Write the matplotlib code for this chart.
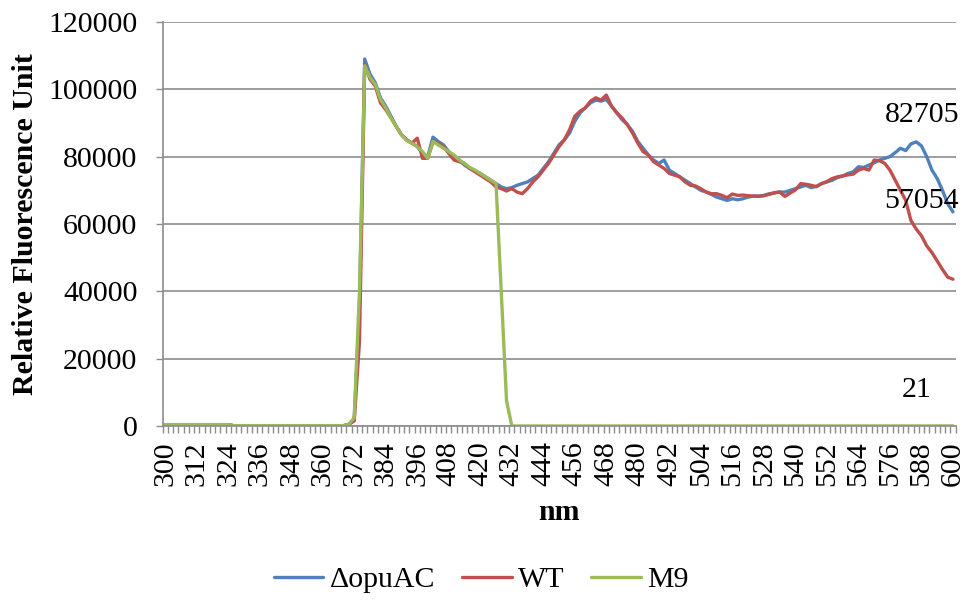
import matplotlib
matplotlib.use("Agg")
import matplotlib.pyplot as plt
import numpy as np

plt.rcParams['font.family'] = ['Liberation Serif', 'DejaVu Serif']

wavelength = list(range(300, 601, 2))

opuAC = [400, 400, 400, 400, 400, 400, 400, 400, 400, 400, 400, 400, 400,
         100, 100, 100, 100, 100, 100, 100, 100, 100, 100, 100, 100, 100, 100, 100, 100, 100, 100, 100, 100, 100, 100,
         500, 2000, 35000, 109000,
         104500, 102000, 97500, 95000, 92000, 89000, 86500, 85000, 84000, 83000,
         81000, 80000, 85800, 84500, 83500, 81500, 80000, 79000, 77500, 76500,
         75800, 75000, 74000, 73000, 72000, 71000, 70500, 70800, 71500, 72000,
         72500, 73500, 74500, 76500, 78500, 81000, 83500, 85000, 87000, 90500,
         93000, 94500, 96000, 96800, 96500, 97000, 95000, 93000, 91000, 89500,
         87500, 84500, 82500, 80500, 79000, 78000, 79000, 76000, 75000, 74000,
         73000, 72000, 71000, 70000, 69500, 68800, 68000, 67500, 67000, 67500,
         67200, 67500, 68000, 68300, 68300, 68500, 69000, 69200, 69500, 69500,
         70000, 70500, 71000, 71500, 70800, 71200, 72000, 72500, 73000, 73800,
         74200, 75000, 75500, 77000, 76800, 77500, 78200, 79000, 79500, 80000,
         81200, 82500, 81800, 83800, 84400, 83200, 80000, 76000, 73500, 70000,
         66000, 63600]

wt = [400, 400, 400, 400, 400, 400, 400, 400, 400, 400, 400, 400, 400,
      100, 100, 100, 100, 100, 100, 100, 100, 100, 100, 100, 100, 100, 100, 100, 100, 100, 100, 100, 100, 100, 100,
      500, 1500, 25000, 107500,
      103000, 101000, 96000, 94000, 91500, 89000, 86500, 85000, 84000, 85500,
      79500, 79500, 84500, 84000, 83000, 81000, 79000, 78500, 78000, 76500,
      75500, 74500, 73500, 72500, 71000, 70500, 69800, 70500, 69500, 69000,
      70500, 72500, 74000, 76000, 78000, 80500, 83000, 85000, 88000, 92000,
      93500, 94500, 96500, 97500, 96800, 98300, 95000, 93000, 91500, 89500,
      87000, 84000, 81500, 80500, 78500, 77500, 76500, 75000, 74500, 74000,
      72500, 71500, 71300, 70500, 69500, 69000, 69000, 68500, 67800, 68900,
      68500, 68600, 68400, 68300, 68200, 68400, 68800, 69300, 69500, 68200,
      69200, 70100, 72000, 71800, 71500, 71100, 72000, 72600, 73500, 74000,
      74300, 74600, 74800, 76000, 76500, 76000, 79000, 78800, 78000, 76000,
      73000, 70000, 67000, 61000, 58500, 56500, 53500, 51500, 49000, 46500,
      44200, 43600]

m9 = [400, 400, 400, 400, 400, 400, 400, 400, 400, 400, 400, 400, 400,
      100, 100, 100, 100, 100, 100, 100, 100, 100, 100, 100, 100, 100, 100, 100, 100, 100, 100, 100, 100, 100, 100,
      500, 2500, 40000, 107000,
      103500, 101500, 97000, 94500, 91500, 89000, 86500, 84800, 84000, 83000,
      81500, 79500, 84500, 83500, 82500, 81500, 80500, 79000, 78000, 76800,
      76000, 75000, 74000, 73000, 72000, 40000, 7500, 0, 0, 0,
      0, 0, 0, 0, 0, 0, 0, 0, 0, 0,
      0, 0, 0, 0, 0, 0, 0, 0, 0, 0,
      0, 0, 0, 0, 0, 0, 0, 0, 0, 0,
      0, 0, 0, 0, 0, 0, 0, 0, 0, 0,
      0, 0, 0, 0, 0, 0, 0, 0, 0, 0,
      0, 0, 0, 0, 0, 0, 0, 0, 0, 0,
      0, 0, 0, 0, 0, 0, 0, 0, 0, 0,
      0, 0, 0, 0, 0, 0, 0, 0, 0, 0,
      0, 21]

series_names = ["\u0394opuAC", "WT", "M9"]
series_colors = ["#4F81BD", "#C0504D", "#9BBB59"]
annotations = ["82705", "57054", "21"]
y_ticks = [0, 20000, 40000, 60000, 80000, 100000, 120000]

FS = 21.5
W, H = 967, 601
fig = plt.figure(figsize=(W / 100, H / 100), dpi=100)
L, R, T, B = 162.5, 955.6, 22, 426
ax = fig.add_axes([L / W, 1 - B / H, (R - L) / W, (B - T) / H])

idx = np.arange(len(wavelength))
for vals, name, col in zip([opuAC, wt, m9], series_names, series_colors):
    ax.plot(idx, vals, color=col, lw=2.4, label=name, solid_joinstyle='round',
            solid_capstyle='round')

ax.set_xlim(-0.5, len(wavelength) - 0.5)
ax.set_ylim(0, 120000)
ax.set_yticks(y_ticks)
ax.set_yticklabels([str(v) for v in y_ticks], fontsize=FS)
ax.yaxis.grid(True, color='#8c8c8c', lw=1.2)
ax.set_axisbelow(True)

major = idx[::6]
ax.set_xticks(major)
ax.set_xticklabels([str(wavelength[i]) for i in major], rotation=90, fontsize=FS)
ax.set_xticks(np.arange(-0.5, len(wavelength), 1), minor=True)
ax.tick_params(axis='x', which='major', length=0, pad=11)
ax.tick_params(axis='x', which='minor', length=5, color='#8c8c8c', width=1)
ax.tick_params(axis='y', which='major', length=5, color='#8c8c8c', width=1, pad=13)

for s in ['top', 'right']:
    ax.spines[s].set_visible(False)
for s in ['left', 'bottom']:
    ax.spines[s].set_color('#8c8c8c')
    ax.spines[s].set_linewidth(1.2)

ax.set_xlabel("nm", fontsize=FS, fontweight='bold', labelpad=9)
ax.set_ylabel("Relative Fluorescence Unit", fontsize=FS, fontweight='bold', labelpad=7)

fig.text(922 / W, 1 - 115 / H, annotations[0], fontsize=FS, ha='center', va='center')
fig.text(922 / W, 1 - 201 / H, annotations[1], fontsize=FS, ha='center', va='center')
fig.text(917 / W, 1 - 390 / H, annotations[2], fontsize=FS, ha='center', va='center')

fig.legend(loc='center', bbox_to_anchor=(481 / W, 1 - 580 / H), ncol=3, frameon=False,
           fontsize=FS, handlelength=1.67, handletextpad=0.2, columnspacing=0.9)

fig.savefig("out.png", dpi=100, facecolor='white')
